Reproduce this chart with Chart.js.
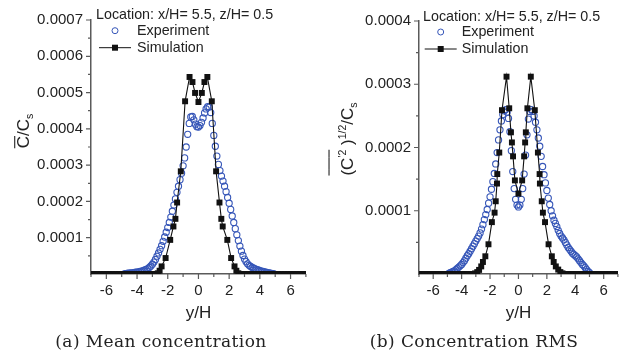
<!DOCTYPE html>
<html>
<head>
<meta charset="utf-8">
<script src="https://cdn.jsdelivr.net/npm/chart.js@4.4.0/dist/chart.umd.min.js"></script>
<style>
  body { margin: 0; background: #fff; width: 623px; height: 354px; overflow: hidden; position: relative; }
  canvas { position: absolute; top: 0; }
  #meanChart { left: 0; }
  #rmsChart { left: 311px; }
  .cap { position: absolute; top: 331px; font: 17px "DejaVu Serif", serif; color: #222; white-space: nowrap; transform: translateX(-50%); letter-spacing: 0.4px; }
</style>
</head>
<body>
<canvas id="meanChart" width="311" height="354"></canvas>
<canvas id="rmsChart" width="312" height="354"></canvas>
<div class="cap" style="left:161px">(a) Mean concentration</div>
<div class="cap" style="left:474px">(b) Concentration RMS</div>
<script>
// Data (y values in units of 1e-4)
const xTicks = [-6, -4, -2, 0, 2, 4, 6];
const xMinor = [-7, -5, -3, -1, 1, 3, 5, 7];
const meanTicks = [1, 2, 3, 4, 5, 6, 7];
const meanMinor = [0.5, 1.5, 2.5, 3.5, 4.5, 5.5, 6.5];
const rmsTicks = [1, 2, 3, 4];
const rmsMinor = [0.5, 1.5, 2.5, 3.5];

const meanExp = [
  [-4.8,0.01],[-4.7,0.01],[-4.6,0.02],[-4.5,0.02],[-4.4,0.03],[-4.3,0.03],[-4.2,0.04],[-4.1,0.05],[-4.0,0.05],
  [-3.9,0.06],[-3.8,0.07],[-3.7,0.08],[-3.6,0.09],[-3.5,0.11],[-3.4,0.13],[-3.3,0.15],[-3.2,0.18],[-3.1,0.22],
  [-3.0,0.27],[-2.9,0.33],[-2.8,0.40],[-2.7,0.49],[-2.6,0.58],[-2.5,0.68],[-2.4,0.78],[-2.3,0.90],[-2.2,1.02],
  [-2.1,1.15],[-2.0,1.28],[-1.9,1.42],[-1.8,1.57],[-1.7,1.73],[-1.6,1.90],[-1.5,2.07],[-1.4,2.25],[-1.3,2.42],
  [-1.2,2.60],[-1.1,2.78],[-1.0,2.98],[-0.9,3.20],[-0.8,3.50],[-0.7,3.85],[-0.6,4.15],[-0.5,4.33],[-0.4,4.34],
  [-0.3,4.25],[-0.2,4.13],[-0.1,4.06],[0.0,4.05],[0.1,4.09],[0.2,4.18],[0.3,4.30],[0.4,4.44],[0.5,4.55],
  [0.6,4.61],[0.7,4.60],[0.8,4.45],[0.9,4.15],[1.0,3.82],[1.1,3.52],[1.2,3.25],[1.3,3.02],[1.4,2.85],
  [1.5,2.70],[1.6,2.56],[1.7,2.42],[1.8,2.27],[1.9,2.11],[2.0,1.95],[2.1,1.78],[2.2,1.60],[2.3,1.42],
  [2.4,1.25],[2.5,1.08],[2.6,0.92],[2.7,0.77],[2.8,0.63],[2.9,0.51],[3.0,0.41],[3.1,0.34],[3.2,0.28],
  [3.3,0.24],[3.4,0.21],[3.5,0.18],[3.6,0.16],[3.7,0.14],[3.8,0.12],[3.9,0.11],[4.0,0.09],[4.1,0.08],
  [4.2,0.07],[4.3,0.06],[4.4,0.05],[4.5,0.04],[4.6,0.03],[4.7,0.02],[4.8,0.01],[4.9,0.01]
];
const meanSim = [
  [-7,0],[-6.8,0],[-6.6,0],[-6.4,0],[-6.2,0],[-6,0],[-5.8,0],[-5.6,0],[-5.4,0],[-5.2,0],[-5,0],
  [-4.8,0],[-4.6,0],[-4.4,0],[-4.2,0],[-4,0],[-3.8,0],[-3.6,0],[-3.4,0],[-3.2,0],[-3,0],[-2.8,0],
  [-2.65,0.02],[-2.53,0.09],[-2.4,0.21],[-2.14,0.44],[-1.84,0.94],[-1.63,1.31],[-1.5,1.52],[-1.39,1.97],
  [-1.15,2.83],[-0.87,4.76],[-0.58,5.43],[-0.39,5.29],[-0.22,4.99],[0,4.74],[0.22,4.99],[0.39,5.29],
  [0.58,5.43],[0.87,4.76],[1.15,2.83],[1.37,1.97],[1.49,1.52],[1.58,1.31],[1.88,0.94],[2.13,0.44],
  [2.35,0.21],[2.47,0.09],[2.6,0.02],[2.8,0],[3,0],[3.2,0],[3.4,0],[3.6,0],[3.8,0],[4,0],[4.2,0],
  [4.4,0],[4.6,0],[4.8,0],[5,0],[5.2,0],[5.4,0],[5.6,0],[5.8,0],[6,0],[6.2,0],[6.4,0],[6.6,0],[6.8,0],[7,0]
];
const rmsExp = [
  [-4.9,0.01],[-4.8,0.02],[-4.7,0.03],[-4.6,0.04],[-4.5,0.05],[-4.4,0.07],[-4.3,0.09],[-4.2,0.11],[-4.1,0.13],
  [-4.0,0.15],[-3.9,0.18],[-3.8,0.21],[-3.7,0.25],[-3.6,0.29],[-3.5,0.32],[-3.4,0.36],[-3.3,0.40],[-3.2,0.44],
  [-3.1,0.48],[-3.0,0.52],[-2.9,0.56],[-2.8,0.60],[-2.7,0.65],[-2.6,0.71],[-2.5,0.78],[-2.4,0.86],[-2.3,0.94],
  [-2.2,1.02],[-2.1,1.12],[-2.0,1.22],[-1.9,1.34],[-1.8,1.46],[-1.7,1.59],[-1.6,1.74],[-1.5,1.92],[-1.4,2.12],
  [-1.3,2.28],[-1.2,2.42],[-1.1,2.52],[-1.0,2.58],[-0.9,2.60],[-0.8,2.56],[-0.7,2.46],[-0.6,2.25],[-0.5,1.95],
  [-0.4,1.62],[-0.3,1.35],[-0.2,1.18],[-0.1,1.09],[0.0,1.06],[0.1,1.09],[0.2,1.18],[0.3,1.35],[0.4,1.58],
  [0.5,1.88],[0.6,2.20],[0.7,2.45],[0.8,2.57],[0.9,2.60],[1.0,2.57],[1.1,2.50],[1.2,2.40],[1.3,2.28],
  [1.4,2.15],[1.5,2.02],[1.6,1.86],[1.7,1.70],[1.8,1.57],[1.9,1.44],[2.0,1.32],[2.1,1.20],[2.2,1.10],
  [2.3,1.00],[2.4,0.92],[2.5,0.85],[2.6,0.80],[2.7,0.75],[2.8,0.69],[2.9,0.64],[3.0,0.60],[3.1,0.57],
  [3.2,0.54],[3.3,0.50],[3.4,0.46],[3.5,0.42],[3.6,0.39],[3.7,0.36],[3.8,0.33],[3.9,0.31],[4.0,0.29],
  [4.1,0.27],[4.2,0.24],[4.3,0.21],[4.4,0.18],[4.5,0.15],[4.6,0.13],[4.7,0.10],[4.8,0.07],[4.9,0.04],[5.0,0.02]
];
const rmsSim = [
  [-7,0],[-6.8,0],[-6.6,0],[-6.4,0],[-6.2,0],[-6,0],[-5.8,0],[-5.6,0],[-5.4,0],[-5.2,0],[-5,0],
  [-4.8,0],[-4.6,0],[-4.4,0],[-4.2,0],[-4,0],[-3.8,0],[-3.6,0],[-3.4,0],[-3.2,0],[-3.05,0.01],
  [-2.9,0.03],[-2.77,0.065],[-2.62,0.12],[-2.5,0.19],[-2.33,0.28],[-2.11,0.47],[-1.87,0.82],[-1.68,0.97],
  [-1.6,1.15],[-1.51,1.43],[-1.49,1.58],[-1.35,1.92],[-1.16,2.59],[-0.84,3.12],[-0.65,2.62],[-0.53,2.24],
  [-0.46,2.08],[-0.38,1.86],[-0.25,1.48],[0,1.27],[0.26,1.48],[0.4,1.86],[0.47,2.08],[0.52,2.24],
  [0.63,2.62],[0.87,3.12],[1.15,2.59],[1.37,1.92],[1.49,1.58],[1.51,1.43],[1.64,1.15],[1.72,0.97],
  [1.87,0.82],[2.12,0.47],[2.35,0.28],[2.48,0.19],[2.63,0.12],[2.8,0.07],[2.95,0.03],[3.1,0.01],
  [3.3,0],[3.5,0],[3.7,0],[3.9,0],[4.1,0],[4.3,0],[4.5,0],[4.7,0],[4.9,0],[5.1,0],[5.3,0],[5.5,0],
  [5.7,0],[5.9,0],[6.1,0],[6.3,0],[6.5,0],[6.7,0],[6.9,0],[7,0]
];

const FONT = '"Liberation Sans", Arial, sans-serif';
const BLUE = '#3656b8';
const AXIS = '#5a5a5a';
const toXY = arr => arr.map(([x, y]) => ({ x, y }));

// draws a rotated label made of runs (sub/sup/overline)
const richLabel = (ctx, parts, cx, cy, size) => {
  const fontOf = p => `${(p.sub || p.sup) ? size * 0.62 : size}px ${FONT}`;
  let total = 0;
  parts.forEach(p => { ctx.font = fontOf(p); p.w = ctx.measureText(p.t).width; total += p.w; });
  ctx.save();
  ctx.translate(cx, cy);
  ctx.rotate(-Math.PI / 2);
  ctx.fillStyle = '#222';
  ctx.textAlign = 'left';
  ctx.textBaseline = 'alphabetic';
  let x = -total / 2;
  const base = size * 0.36;
  parts.forEach(p => {
    ctx.font = fontOf(p);
    const dy = p.sup ? -size * 0.4 : p.sub ? size * 0.22 : 0;
    ctx.fillText(p.t, x, base + dy);
    if (p.bar) ctx.fillRect(x, base - size * p.bar, p.w, 1.1);
    x += p.w;
  });
  ctx.restore();
};

const decor = {
  id: 'decor',
  afterDraw(chart, args, o) {
    const { ctx, chartArea: a, scales: { x, y } } = chart;
    ctx.save();
    ctx.strokeStyle = AXIS;
    ctx.lineWidth = 1.2;
    ctx.beginPath();
    xTicks.forEach(v => { const p = x.getPixelForValue(v); ctx.moveTo(p, a.bottom); ctx.lineTo(p, a.bottom + 5); });
    xMinor.forEach(v => { const p = x.getPixelForValue(v); ctx.moveTo(p, a.bottom); ctx.lineTo(p, a.bottom + 3); });
    o.yTicks.forEach(v => { const p = y.getPixelForValue(v); ctx.moveTo(a.left, p); ctx.lineTo(a.left - 5, p); });
    o.yMinor.forEach(v => { const p = y.getPixelForValue(v); ctx.moveTo(a.left, p); ctx.lineTo(a.left - 3, p); });
    ctx.stroke();

    // legend
    const L = o.legend;
    ctx.fillStyle = '#222';
    ctx.textBaseline = 'middle';
    ctx.textAlign = 'left';
    ctx.font = `14.3px ${FONT}`;
    ctx.fillText('Location: x/H= 5.5, z/H= 0.5', L.x, L.y0);
    ctx.fillText('Experiment', L.tx, L.y1);
    ctx.fillText('Simulation', L.tx, L.y2);
    ctx.strokeStyle = BLUE;
    ctx.lineWidth = 1;
    ctx.beginPath();
    ctx.arc(L.mx, L.y1, 3, 0, Math.PI * 2);
    ctx.stroke();
    ctx.strokeStyle = '#111';
    ctx.beginPath();
    ctx.moveTo(L.mx - 16, L.y2);
    ctx.lineTo(L.mx + 16, L.y2);
    ctx.stroke();
    ctx.fillStyle = '#111';
    ctx.fillRect(L.mx - 3, L.y2 - 3, 6, 6);

    // axis titles
    ctx.fillStyle = '#222';
    ctx.textAlign = 'center';
    ctx.font = `17px ${FONT}`;
    ctx.fillText('y/H', x.getPixelForValue(0), 313);
    richLabel(ctx, o.yTitle, o.yTitleX, o.yTitleY, 17);
    ctx.restore();
  }
};

const makeChart = (id, exp, sim, yMax, yTicks, yMinor, yWidth, padRight, padTop, extra) => new Chart(document.getElementById(id), {
  type: 'line',
  data: {
    datasets: [
      {
        label: 'Simulation', data: toXY(sim), borderColor: '#111', borderWidth: 1.1,
        pointStyle: 'rect', pointRadius: 4.2, pointBackgroundColor: '#111', pointBorderWidth: 0,
        clip: 0, tension: 0
      },
      {
        label: 'Experiment', data: toXY(exp), showLine: false, borderColor: BLUE,
        pointStyle: 'circle', pointRadius: 3.1, pointBorderWidth: 1.1,
        pointBackgroundColor: 'rgba(0,0,0,0)', clip: 0
      }
    ]
  },
  options: {
    responsive: false,
    animation: false,
    events: [],
    layout: { padding: { left: 0, right: padRight, top: padTop, bottom: 0 } },
    plugins: {
      legend: { display: false },
      tooltip: { enabled: false },
      decor: { yTicks, yMinor, ...extra }
    },
    scales: {
      x: {
        type: 'linear', min: -7, max: 7,
        afterBuildTicks: s => { s.ticks = xTicks.map(v => ({ value: v })); },
        afterFit: s => { s.height = 80; },
        grid: { display: false, drawTicks: false },
        border: { display: true, color: AXIS, width: 1.5 },
        ticks: { padding: 8, color: '#222', font: { family: FONT, size: 15 }, maxRotation: 0, autoSkip: false }
      },
      y: {
        type: 'linear', min: 0, max: yMax,
        afterBuildTicks: s => { s.ticks = yTicks.map(v => ({ value: v })); },
        afterFit: s => { s.width = yWidth; },
        grid: { display: false, drawTicks: false },
        border: { display: true, color: AXIS, width: 1.5 },
        ticks: {
          padding: 8, color: '#222', font: { family: FONT, size: 15 },
          callback: v => (v / 10000).toFixed(4)
        }
      }
    }
  },
  plugins: [decor]
});

makeChart('meanChart', meanExp, meanSim, 7, meanTicks, meanMinor, 91, 1, 20, {
  legend: { x: 96, y0: 15, mx: 115, tx: 137, y1: 30.7, y2: 47.7 },
  yTitle: [{ t: 'C', bar: 0.88 }, { t: '/C' }, { t: 's', sub: true }],
  yTitleX: 23, yTitleY: 131
});

makeChart('rmsChart', rmsExp, rmsSim, 4, rmsTicks, rmsMinor, 108, 4, 21, {
  legend: { x: 112, y0: 16.7, mx: 129.7, tx: 150.7, y1: 32, y2: 49 },
  yTitle: [
    { t: '(', bar: 1.45 }, { t: 'C', bar: 1.45 }, { t: "'2", sup: true, bar: 1.45 }, { t: ' )' },
    { t: '1/2', sup: true }, { t: '/C' }, { t: 's', sub: true }
  ],
  yTitleX: 36, yTitleY: 139
});
</script>
</body>
</html>
